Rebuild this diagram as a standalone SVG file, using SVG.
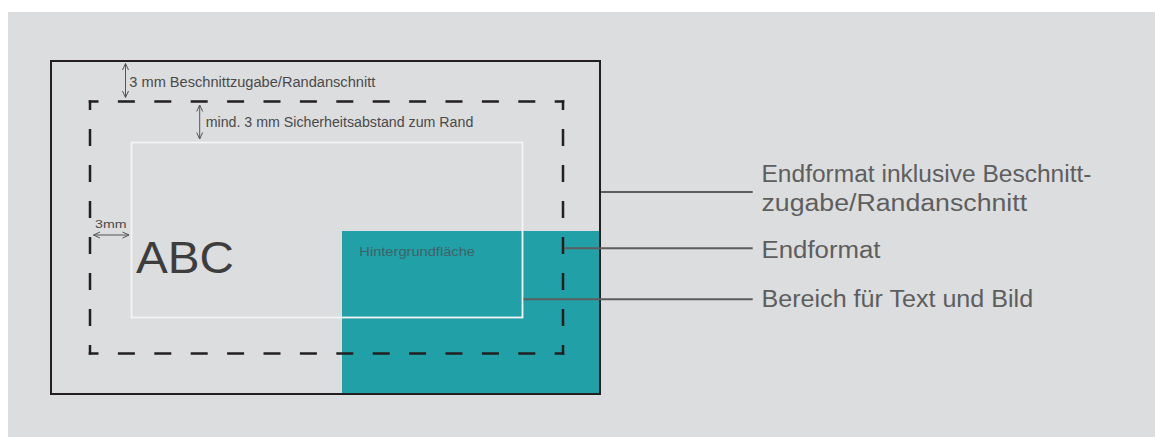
<svg xmlns="http://www.w3.org/2000/svg" width="1155" height="437" viewBox="0 0 1155 437">
  <style>
    .frame { fill: none; stroke: #231f20; stroke-width: 2; }
    .dashH { stroke: #231f20; stroke-width: 2.5; stroke-dasharray: 17 19.4; stroke-dashoffset: 7.25; fill: none; }
    .dashV { stroke: #231f20; stroke-width: 2.5; stroke-dasharray: 17 19; stroke-dashoffset: 7.25; fill: none; }
    .safe { fill: none; stroke: #f4f4f4; stroke-width: 1.8; }
    .conn { stroke: #5d5d5d; stroke-width: 2; fill: none; }
    .dim { stroke: #555555; stroke-width: 1; fill: none; }
    .lbl { font-family: "Liberation Sans", Arial, sans-serif; font-size: 23.5px; fill: #5e5e5e; }
    .small { font-family: "Liberation Sans", Arial, sans-serif; font-size: 14px; fill: #4a4a4a; }
  </style>
  <defs>
    <marker id="ah" viewBox="0 0 8 8" refX="7.5" refY="4" markerWidth="8" markerHeight="8" markerUnits="userSpaceOnUse" orient="auto-start-reverse">
      <path d="M1,1 L7.5,4 L1,7" fill="none" stroke="#555555" stroke-width="1"/>
    </marker>
  </defs>

  <rect id="background" x="8" y="12" width="1147" height="425" fill="#dcdddf"/>

  <g id="hintergrundflaeche">
    <rect x="342" y="231" width="258" height="163" fill="#22a0a8"/>
    <text x="359.3" y="255.7" font-family="'Liberation Sans', Arial, sans-serif" font-size="13.5" fill="#3f6366" textLength="115.7" lengthAdjust="spacingAndGlyphs">Hintergrundfläche</text>
  </g>

  <g id="bereich-text-bild">
    <rect class="safe" x="131.5" y="142.5" width="391" height="175"/>
  </g>

  <g id="endformat">
    <line class="dashH" x1="88.75" y1="101.5" x2="564.25" y2="101.5"/>
    <line class="dashH" x1="88.75" y1="353.5" x2="564.25" y2="353.5"/>
    <line class="dashV" x1="90" y1="100.25" x2="90" y2="354.75"/>
    <line class="dashV" x1="563" y1="100.25" x2="563" y2="354.75"/>
  </g>

  <g id="endformat-beschnitt">
    <rect class="frame" x="51" y="61" width="549" height="333"/>
  </g>

  <g id="abc">
    <text x="136" y="273.3" font-family="'Liberation Sans', Arial, sans-serif" font-size="45" fill="#3d3d3d" textLength="98" lengthAdjust="spacingAndGlyphs">ABC</text>
  </g>

  <g id="dimensions">
    <line class="dim" x1="125.5" y1="63.5" x2="125.5" y2="97.5" marker-start="url(#ah)" marker-end="url(#ah)"/>
    <text class="small" x="129.3" y="86.5" textLength="246" lengthAdjust="spacingAndGlyphs">3 mm Beschnittzugabe/Randanschnitt</text>
    <line class="dim" x1="199.7" y1="105" x2="199.7" y2="139" marker-start="url(#ah)" marker-end="url(#ah)"/>
    <text class="small" x="205.7" y="127.3" textLength="267.6" lengthAdjust="spacingAndGlyphs">mind. 3 mm Sicherheitsabstand zum Rand</text>
    <line class="dim" x1="93.5" y1="235" x2="129" y2="235" marker-start="url(#ah)" marker-end="url(#ah)"/>
    <text x="95" y="228.3" font-family="'Liberation Sans', Arial, sans-serif" font-size="11.5" fill="#4a4a4a" textLength="31.5" lengthAdjust="spacingAndGlyphs">3mm</text>
  </g>

  <g id="connectors">
    <line class="conn" x1="601" y1="192" x2="752.7" y2="192"/>
    <line class="conn" x1="564" y1="248.3" x2="752.7" y2="248.3"/>
    <line class="conn" x1="523.5" y1="299.3" x2="752.7" y2="299.3"/>
  </g>

  <g id="label-endformat-beschnitt">
    <text class="lbl" x="761.5" y="182" textLength="330" lengthAdjust="spacingAndGlyphs">Endformat inklusive Beschnitt-</text>
    <text class="lbl" x="761.5" y="210.5" textLength="265.6" lengthAdjust="spacingAndGlyphs">zugabe/Randanschnitt</text>
  </g>
  <g id="label-endformat">
    <text class="lbl" x="761.5" y="257.5" textLength="119" lengthAdjust="spacingAndGlyphs">Endformat</text>
  </g>
  <g id="label-bereich">
    <text class="lbl" x="761.5" y="306.5" textLength="271.6" lengthAdjust="spacingAndGlyphs">Bereich für Text und Bild</text>
  </g>
</svg>
